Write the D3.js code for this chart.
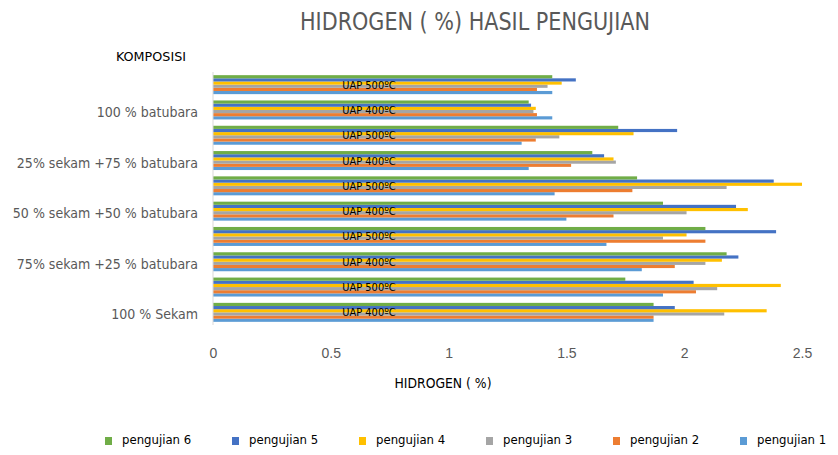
<!DOCTYPE html>
<html>
<head>
<meta charset="utf-8">
<script src="https://cdn.jsdelivr.net/npm/d3@7"></script>
<style>
  body { margin: 0; background: #fff; }
  svg { font-family: "Liberation Sans Narrow", "DejaVu Sans Condensed", "Open Sans", sans-serif; }
</style>
</head>
<body>
<svg width="838" height="455"></svg>
<script>
// rows listed bottom to top, like the excel sheet
var komposisi = ["100 % Sekam", "75% sekam +25 % batubara", "50 % sekam +50 % batubara", "25% sekam +75 % batubara", "100 % batubara"];
var suhu = ["UAP 400ºC", "UAP 500ºC"];
var seriesNames = ["pengujian 1", "pengujian 2", "pengujian 3", "pengujian 4", "pengujian 5", "pengujian 6"];
var seriesColors = ["#5B9BD5", "#ED7D31", "#A5A5A5", "#FFC000", "#4472C4", "#70AD47"];
var xTicks = [0, 0.5, 1, 1.5, 2, 2.5];

// each array: sekam400, sekam500, 75-400, 75-500, 50-400, 50-500, 25-400, 25-500, bb400, bb500
var pengujian1 = [1.87, 1.91, 1.82, 1.67, 1.50, 1.45, 1.34, 1.31, 1.44, 1.44];
var pengujian2 = [1.87, 2.05, 1.96, 2.09, 1.70, 1.78, 1.52, 1.37, 1.375, 1.375];
var pengujian3 = [2.17, 2.14, 2.09, 1.91, 2.01, 2.18, 1.71, 1.47, 1.36, 1.42];
var pengujian4 = [2.35, 2.41, 2.16, 2.01, 2.27, 2.50, 1.70, 1.785, 1.37, 1.48];
var pengujian5 = [1.96, 2.04, 2.23, 2.39, 2.22, 2.38, 1.66, 1.97, 1.35, 1.54];
var pengujian6 = [1.87, 1.75, 2.18, 2.09, 1.91, 1.80, 1.61, 1.72, 1.34, 1.44];
var allSeries = [pengujian1, pengujian2, pengujian3, pengujian4, pengujian5, pengujian6];

var rows = [];
komposisi.forEach(function(k, ki){
    suhu.forEach(function(s, si){
        rows.push({key: k + "|" + s, komp: k, suhu: s, idx: ki * 2 + si});
    });
});

var svg = d3.select("svg");
var x = d3.scaleLinear().domain([0, 2.5]).range([213, 802]);
// top of the plot is the last row
var y = d3.scaleBand().domain(rows.map(function(d){return d.key;}).reverse())
    .range([72, 325]).paddingInner(0.25).paddingOuter(0.125);
var yInner = d3.scaleBand().domain(seriesNames.slice().reverse()).range([0, y.bandwidth()]);

// title
svg.append("text")
    .attr("x", 475).attr("y", 30)
    .attr("text-anchor", "middle")
    .attr("font-size", "24px")
    .attr("fill", "#595959")
    .attr("textLength", 350)
    .attr("lengthAdjust", "spacingAndGlyphs")
    .text("HIDROGEN ( %) HASIL PENGUJIAN");

svg.append("text")
    .attr("x", 151).attr("y", 61)
    .attr("text-anchor", "middle")
    .attr("font-size", "12px")
    .attr("fill", "#000")
    .attr("textLength", 70)
    .attr("lengthAdjust", "spacingAndGlyphs")
    .text("KOMPOSISI");

// bars
var g = svg.append("g");
rows.forEach(function(r){
    var rg = g.append("g").attr("transform", "translate(0," + y(r.key) + ")");
    rg.selectAll("rect")
        .data(seriesNames)
        .enter()
        .append("rect")
        .attr("x", x(0))
        .attr("y", function(d){return yInner(d);})
        .attr("width", function(d, i){return x(allSeries[i][r.idx]) - x(0);})
        .attr("height", yInner.bandwidth())
        .style("fill", function(d, i){return seriesColors[i];});
    rg.append("text")
        .attr("x", 369)
        .attr("y", y.bandwidth() / 2 + 4)
        .attr("text-anchor", "middle")
        .attr("font-size", "11px")
        .attr("fill", "#000")
        .text(r.suhu);
});

// left axis line
svg.append("line")
    .attr("x1", x(0)).attr("x2", x(0))
    .attr("y1", 72).attr("y2", 325)
    .attr("stroke", "#d9d9d9").attr("stroke-width", 1);

// komposisi labels
komposisi.forEach(function(k){
    svg.append("text")
        .attr("x", 198)
        .attr("y", y(k + "|" + suhu[0]) + y.bandwidth() / 2 + 7)
        .attr("text-anchor", "end")
        .attr("font-size", "14px")
        .attr("fill", "#595959")
        .text(k);
});

// x axis
var xAxis = svg.append("g")
    .attr("transform", "translate(0,345)")
    .call(d3.axisBottom(x).tickValues(xTicks).tickSize(0).tickFormat(function(d){return d;}));
xAxis.select(".domain").remove();
xAxis.selectAll("text")
    .attr("font-size", "14px")
    .attr("fill", "#595959")
    .attr("font-family", null);

svg.append("text")
    .attr("x", 443).attr("y", 388)
    .attr("text-anchor", "middle")
    .attr("font-size", "14px")
    .attr("fill", "#000")
    .attr("textLength", 97)
    .attr("lengthAdjust", "spacingAndGlyphs")
    .text("HIDROGEN ( %)");

// legend
var legendOrder = [5, 4, 3, 2, 1, 0];
var lg = svg.append("g").attr("transform", "translate(0,441)");
legendOrder.forEach(function(si, j){
    var lx = 105 + j * 127;
    lg.append("rect")
        .attr("x", lx).attr("y", -4)
        .attr("width", 7).attr("height", 8)
        .style("fill", seriesColors[si]);
    lg.append("text")
        .attr("x", lx + 17).attr("y", 3)
        .attr("font-size", "13px")
        .attr("fill", "#000")
        .text(seriesNames[si]);
});
</script>
</body>
</html>
